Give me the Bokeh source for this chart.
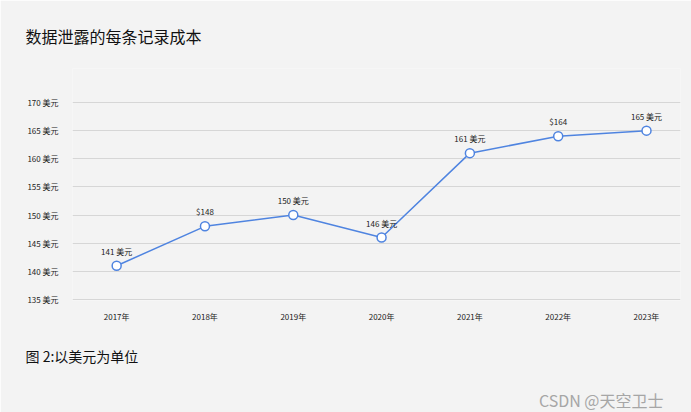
from bokeh.plotting import figure
from bokeh.models import ColumnDataSource, FixedTicker, Range1d, Title
from bokeh.core.properties import value
from bokeh.embed import file_html
from bokeh.resources import INLINE

years = [2017, 2018, 2019, 2020, 2021, 2022, 2023]
year_labels = ["2017年", "2018年", "2019年", "2020年", "2021年", "2022年", "2023年"]
costs = [141, 148, 150, 146, 161, 164, 165]
point_labels = ["141 美元", "$148", "150 美元", "146 美元", "161 美元", "$164", "165 美元"]
y_ticks = [135, 140, 145, 150, 155, 160, 165, 170]
y_tick_labels = [f"{v} 美元" for v in y_ticks]
title_text = "数据泄露的每条记录成本"
caption_text = "图 2:以美元为单位"
watermark_text = "CSDN @天空卫士"

FONT = "Noto Sans CJK SC"
BG = "#f3f3f3"
LINE = "#4f84e0"
W, H = 691, 412

# the frame reaches up under the title; the grid/ticks only run from 135 to 170
p = figure(width=W, height=H, output_backend="svg", toolbar_location=None,
           x_range=Range1d(2016.5, 2023.385), y_range=Range1d(134.82, 176.04),
           min_border_left=72, min_border_right=11, min_border_top=68, min_border_bottom=112,
           background_fill_color=BG, border_fill_color=BG, outline_line_color=None)
p.title.text = ""

src = ColumnDataSource(dict(x=years, y=costs, lab=point_labels))
p.line("x", "y", source=src, line_color=LINE, line_width=1.5)
p.scatter("x", "y", source=src, size=9, fill_color="white", line_color=LINE, line_width=1.5)
p.text("x", "y", text="lab", source=src, text_font=value(FONT), text_font_size="8px",
       text_align="center", text_baseline="bottom", y_offset=-9, text_color="#222222")

p.xaxis.ticker = FixedTicker(ticks=years)
p.xaxis.major_label_overrides = {y: l for y, l in zip(years, year_labels)}
p.yaxis.ticker = FixedTicker(ticks=y_ticks)
p.yaxis.major_label_overrides = {v: l for v, l in zip(y_ticks, y_tick_labels)}
for ax in (p.xaxis, p.yaxis):
    ax.axis_line_color = None
    ax.major_tick_line_color = None
    ax.minor_tick_line_color = None
    ax.major_tick_out = 0
    ax.major_tick_in = 0
    ax.major_label_text_font = FONT
    ax.major_label_text_font_size = "8px"
    ax.major_label_text_color = "#222222"
p.xaxis.major_label_standoff = 10
p.yaxis.major_label_standoff = 14
p.xgrid.grid_line_color = None
p.ygrid.grid_line_color = "#d6d6d6"
p.ygrid.grid_line_width = 1

title = Title(text=title_text, align="left", offset=-47, standoff=42,
              text_font=FONT, text_font_size="16px", text_font_style="normal", text_color="#111111")
p.add_layout(title, "above")

caption = Title(text=caption_text, align="left", offset=-47, standoff=39,
                text_font=FONT, text_font_size="14px", text_font_style="normal", text_color="#111111")
mark = Title(text=watermark_text, align="right", offset=17, standoff=0,
             text_font=FONT, text_font_size="16px", text_font_style="normal", text_color="#a6a6a6")
p.add_layout(caption, "below")
p.add_layout(mark, "below")

open("out.html", "w").write(file_html(p, INLINE))
